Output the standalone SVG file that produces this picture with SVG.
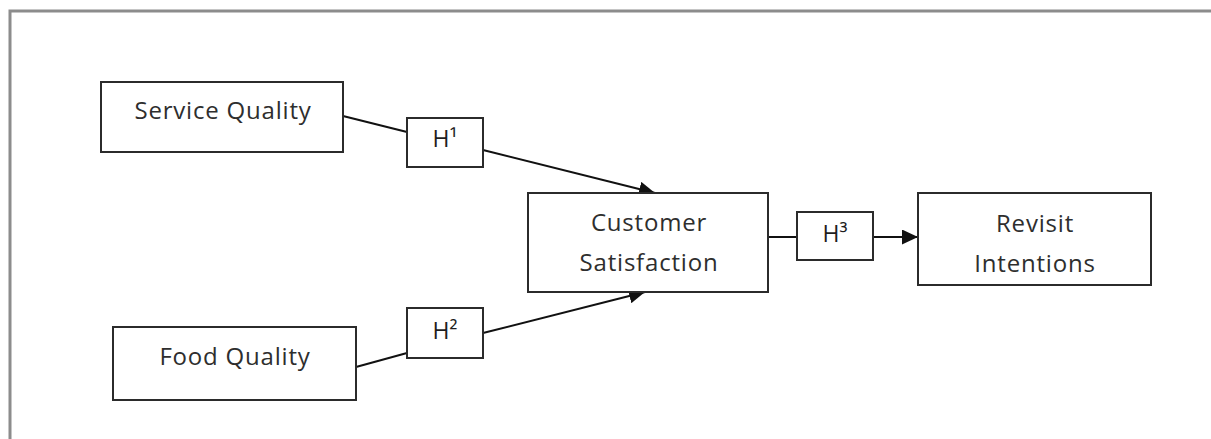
<svg xmlns="http://www.w3.org/2000/svg" width="1211" height="439" viewBox="0 0 1211 439">
  <style>
    .box { fill: #ffffff; stroke: #2b2b2b; stroke-width: 2; }
    .lbl { font-family: "Open Sans", "Noto Sans", sans-serif; font-size: 24px; letter-spacing: 0.8px; fill: #2e2e2e; text-anchor: middle; }
    .hl { font-family: "Open Sans", "Noto Sans", sans-serif; font-size: 23px; fill: #1e1e1e; text-anchor: middle; }
    .conn { fill: none; stroke: #111111; stroke-width: 2; }
  </style>
  <defs>
    <marker id="arrow" markerUnits="userSpaceOnUse" markerWidth="17" markerHeight="15" refX="16" refY="7.5" orient="auto">
      <path d="M0,0 L16,7.5 L0,15 Z" fill="#111111"/>
    </marker>
  </defs>
  <rect width="1211" height="439" fill="#ffffff"/>
  <path d="M10,439 V11 H1211" fill="none" stroke="#8c8c8c" stroke-width="3"/>

  <g id="connectors">
    <line class="conn" x1="343" y1="116" x2="407" y2="132"/>
    <line class="conn" x1="483" y1="150" x2="655" y2="193" marker-end="url(#arrow)"/>
    <line class="conn" x1="356" y1="367" x2="407" y2="353"/>
    <line class="conn" x1="483" y1="333" x2="645" y2="292" marker-end="url(#arrow)"/>
    <line class="conn" x1="768" y1="237" x2="797" y2="237" stroke-width="3"/>
    <line class="conn" x1="873" y1="237" x2="918" y2="237" stroke-width="3" marker-end="url(#arrow)"/>
  </g>

  <g id="service-quality">
    <rect class="box" x="101" y="82" width="242" height="70"/>
    <text class="lbl" x="223" y="119">Service Quality</text>
  </g>
  <g id="food-quality">
    <rect class="box" x="113" y="327" width="243" height="73"/>
    <text class="lbl" x="235" y="365">Food Quality</text>
  </g>
  <g id="customer-satisfaction">
    <rect class="box" x="528" y="193" width="240" height="99"/>
    <text class="lbl" x="649" y="231">Customer</text>
    <text class="lbl" x="649" y="271">Satisfaction</text>
  </g>
  <g id="revisit-intentions">
    <rect class="box" x="918" y="193" width="233" height="92"/>
    <text class="lbl" x="1035" y="232">Revisit</text>
    <text class="lbl" x="1035" y="272">Intentions</text>
  </g>
  <g id="h1">
    <rect class="box" x="407" y="118" width="76" height="49"/>
    <text class="hl" x="445" y="147">H¹</text>
  </g>
  <g id="h2">
    <rect class="box" x="407" y="308" width="76" height="50"/>
    <text class="hl" x="445" y="339">H²</text>
  </g>
  <g id="h3">
    <rect class="box" x="797" y="212" width="76" height="48"/>
    <text class="hl" x="835" y="242">H³</text>
  </g>
</svg>
